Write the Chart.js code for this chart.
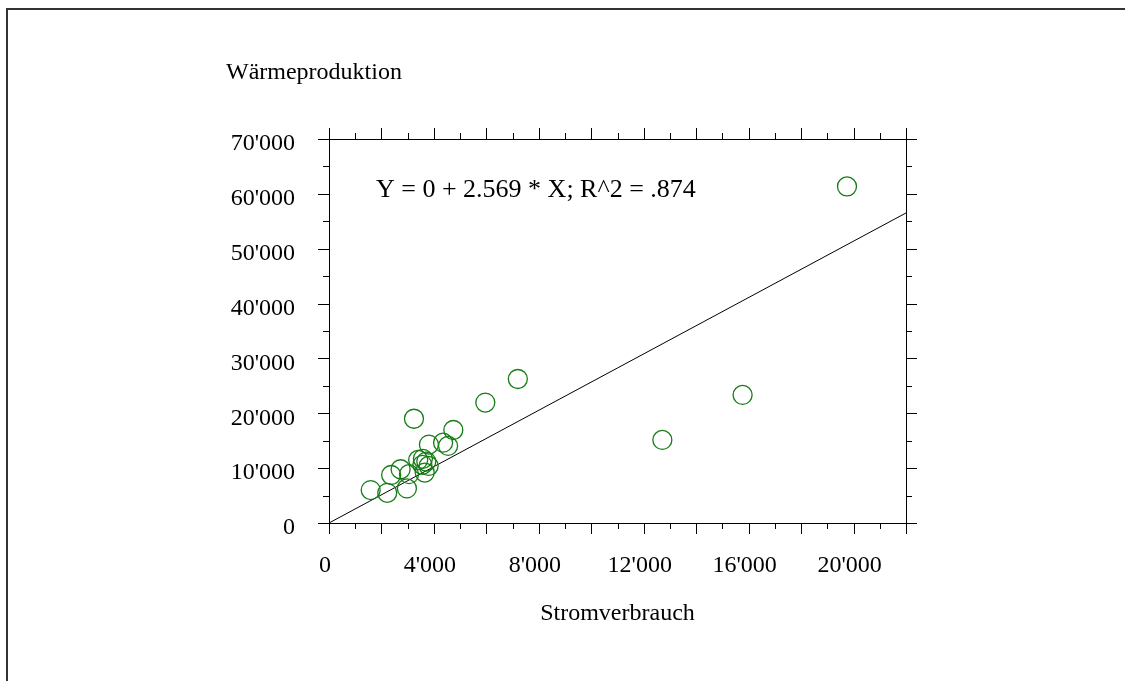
<!DOCTYPE html>
<html><head><meta charset="utf-8">
<script src="https://cdn.jsdelivr.net/npm/chart.js@4/dist/chart.umd.min.js"></script>
<style>html,body{margin:0;padding:0;background:#fff;overflow:hidden}#wrap{position:relative;width:1125px;height:681px}</style>
</head><body><div id="wrap"><canvas id="c" width="1125" height="681"></canvas></div>
<script>
// ---- data ----
const stromverbrauch   = [1590, 2220, 2370, 2730, 2970, 3050, 3240, 3400, 3560, 3580, 3650, 3710, 3800, 3810, 4350, 4540, 4740, 5960, 7200, 12710, 15770, 19750];
const waermeproduktion = [6000, 5500, 8750, 9800, 6300, 8900, 19000, 11500, 10600, 11700, 9200, 11200, 10400, 14300, 14650, 14050, 16950, 21950, 26250, 15150, 23350, 61350];
const regSlope = 2.569;
const regIntercept = 0;
const equationText = "Y = 0 + 2.569 * X; R^2 = .874";
const yAxisTitle = "Wärmeproduktion";
const xAxisTitle = "Stromverbrauch";
const xRange = [0, 22000];
const yRange = [0, 70000];
const xLabelStep = 4000, xMajorStep = 2000, xMinorStep = 1000;
const yLabelStep = 10000, yMajorStep = 10000, yMinorStep = 5000;

const FONT = "'Liberation Serif', 'Times New Roman', serif";
const FS = 24;
const fmt = v => String(v).replace(/\B(?=(\d{3})+(?!\d))/g, "'");

const points = stromverbrauch.map((x, i) => ({x, y: waermeproduktion[i]}));
const regLine = [xRange[0], xRange[1]].map(x => ({x, y: regIntercept + regSlope * x}));

const tickMarks = {
  id: 'tickMarks',
  afterDraw(chart) {
    const ctx = chart.ctx, a = chart.chartArea;
    const xs = chart.scales.x, ys = chart.scales.y;
    ctx.save();
    ctx.strokeStyle = '#000'; ctx.lineWidth = 1;
    ctx.beginPath();
    xs.ticks.forEach(t => {
      const px = Math.round(xs.getPixelForValue(t.value)) + 0.5;
      const L = (t.value % xMajorStep === 0) ? 11 : 6;
      ctx.moveTo(px, a.bottom); ctx.lineTo(px, a.bottom + L);
      ctx.moveTo(px, a.top); ctx.lineTo(px, a.top - L);
    });
    ys.ticks.forEach(t => {
      const py = Math.round(ys.getPixelForValue(t.value)) + 0.5;
      const L = (t.value % yMajorStep === 0) ? 11 : 6;
      ctx.moveTo(a.left, py); ctx.lineTo(a.left - L, py);
      ctx.moveTo(a.right, py); ctx.lineTo(a.right + L, py);
    });
    ctx.stroke();
    ctx.restore();
  }
};

const texts = {
  id: 'texts',
  beforeDraw(chart) {
    const ctx = chart.ctx;
    ctx.save();
    ctx.strokeStyle = '#333'; ctx.lineWidth = 2;
    ctx.beginPath(); ctx.moveTo(7, 681); ctx.lineTo(7, 9); ctx.lineTo(1125, 9); ctx.stroke();
    ctx.restore();
  },
  afterDraw(chart) {
    const ctx = chart.ctx;
    ctx.save();
    ctx.fillStyle = '#000';
    ctx.textBaseline = 'middle'; ctx.textAlign = 'left';
    ctx.font = FS + "px " + FONT;
    ctx.fillText(yAxisTitle, 226, 73);
    ctx.font = "26px " + FONT;
    ctx.fillText(equationText, 376, 190);
    ctx.restore();
  }
};

const axisCommon = {
  type: 'linear',
  grid: { display: true, drawOnChartArea: false, drawTicks: false },
  border: { display: true, color: '#000', width: 1 },
};

new Chart(document.getElementById('c'), {
  data: {
    datasets: [
      { type: 'line', data: regLine, borderColor: '#000', borderWidth: 1, pointRadius: 0, fill: false, order: 2 },
      { type: 'scatter', data: points, pointStyle: 'circle', pointRadius: 9.5, pointHoverRadius: 9.5,
        borderColor: 'rgb(20,125,20)', backgroundColor: 'rgba(0,0,0,0)', pointBorderWidth: 1.3, borderWidth: 1.3, order: 1 }
    ]
  },
  options: {
    responsive: false, animation: false, devicePixelRatio: 1,
    layout: { padding: 0 },
    plugins: { legend: { display: false }, tooltip: { enabled: false }, title: { display: false } },
    scales: {
      x: Object.assign({}, axisCommon, {
        position: 'bottom', min: xRange[0], max: xRange[1],
        ticks: { stepSize: xMinorStep, autoSkip: false, maxRotation: 0, padding: 28, labelOffset: -4,
          color: '#000', font: { family: FONT, size: FS },
          callback: v => (v % xLabelStep === 0 && v < xRange[1]) ? fmt(v) : '' },
        title: { display: true, text: xAxisTitle, color: '#000', font: { family: FONT, size: FS }, padding: { top: 0, bottom: 53 } },
        afterFit: s => { s.height = 681 - 523; }
      }),
      x2: Object.assign({}, axisCommon, {
        position: 'top', min: xRange[0], max: xRange[1],
        ticks: { display: false, stepSize: xMinorStep },
        afterFit: s => { s.height = 139; }
      }),
      y: Object.assign({}, axisCommon, {
        position: 'left', min: yRange[0], max: yRange[1],
        ticks: { stepSize: yMinorStep, autoSkip: false, padding: 34, labelOffset: 5,
          color: '#000', font: { family: FONT, size: FS },
          callback: v => (v % yLabelStep === 0) ? fmt(v) : '' },
        afterFit: s => { s.width = 329; }
      }),
      y2: Object.assign({}, axisCommon, {
        position: 'right', min: yRange[0], max: yRange[1],
        ticks: { display: false, stepSize: yMinorStep },
        afterFit: s => { s.width = 1125 - 906; }
      })
    }
  },
  plugins: [tickMarks, texts]
});
</script></body></html>
